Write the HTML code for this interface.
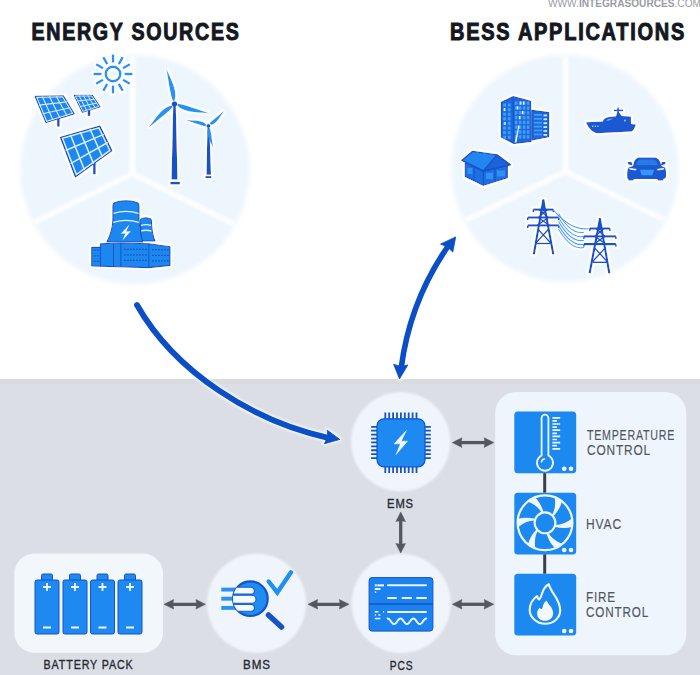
<!DOCTYPE html>
<html><head><meta charset="utf-8">
<style>
html,body{margin:0;padding:0;background:#fff;}
body{width:700px;height:675px;overflow:hidden;}
svg{display:block;}
text{font-family:"Liberation Sans",sans-serif;}
</style></head>
<body>
<svg width="700" height="675" viewBox="0 0 700 675">
<rect x="0" y="0" width="700" height="675" fill="#ffffff"/>
<defs><clipPath id="c1"><circle cx="135" cy="169.5" r="113.5"/></clipPath><clipPath id="c2"><circle cx="565" cy="168.5" r="112.5"/></clipPath></defs>
<text x="548" y="7" font-size="11.5" fill="#989da3" textLength="153" lengthAdjust="spacingAndGlyphs">WWW.<tspan font-weight="bold">INTEGRASOURCES</tspan>.COM</text>
<text x="31.5" y="40" font-size="23" font-weight="bold" letter-spacing="2" fill="#15181f" stroke="#15181f" stroke-width="1" textLength="209" lengthAdjust="spacingAndGlyphs">ENERGY SOURCES</text>
<text x="450" y="40" font-size="23" font-weight="bold" letter-spacing="2" fill="#15181f" stroke="#15181f" stroke-width="1" textLength="236" lengthAdjust="spacingAndGlyphs">BESS APPLICATIONS</text>
<defs><filter id="soft" x="-10%" y="-10%" width="120%" height="120%"><feGaussianBlur stdDeviation="2.5"/></filter><filter id="soft2" x="-10%" y="-10%" width="120%" height="120%"><feGaussianBlur stdDeviation="1"/></filter></defs>
<circle cx="135" cy="169.5" r="114.5" fill="#edf5fd" filter="url(#soft)"/>
<g filter="url(#soft2)"><g clip-path="url(#c1)" stroke="#fbfdff" stroke-width="6"><line x1="132.5" y1="173.5" x2="132.5" y2="40"/><line x1="132.5" y1="173.5" x2="10" y2="234.6"/><line x1="132.5" y1="173.5" x2="257" y2="235.6"/></g></g>
<circle cx="565" cy="168.5" r="113.5" fill="#edf5fd" filter="url(#soft)"/>
<g filter="url(#soft2)"><g clip-path="url(#c2)" stroke="#fbfdff" stroke-width="6"><line x1="565.5" y1="171.5" x2="565.5" y2="40"/><line x1="565.5" y1="171.5" x2="440" y2="232.7"/><line x1="565.5" y1="171.5" x2="690" y2="232.2"/></g></g>
<defs><filter id="halo" x="-5%" y="-5%" width="110%" height="110%"><feMorphology in="SourceAlpha" operator="dilate" radius="1.6" result="d"/><feFlood flood-color="#ffffff" flood-opacity="0.85"/><feComposite in2="d" operator="in" result="w"/><feGaussianBlur in="w" stdDeviation="0.7" result="wb"/><feMerge><feMergeNode in="wb"/><feMergeNode in="SourceGraphic"/></feMerge></filter></defs>
<g filter="url(#halo)">
<circle cx="113" cy="74" r="7.3" fill="none" stroke="#2494f2" stroke-width="2.4"/>
<path d="M124.5,74 L132.5,74 M122.96,79.75 L129.89,83.75 M118.75,83.96 L122.75,90.89 M113,85.5 L113,93.5 M107.25,83.96 L103.25,90.89 M103.04,79.75 L96.11,83.75 M101.5,74 L93.5,74 M103.04,68.25 L96.11,64.25 M107.25,64.04 L103.25,57.11 M113,62.5 L113,54.5 M118.75,64.04 L122.75,57.11 M122.96,68.25 L129.89,64.25" stroke="#2494f2" stroke-width="2.4"/>
<line x1="58.4" y1="118" x2="58.4" y2="126.6" stroke="#1553c6" stroke-width="2.6"/>
<path d="M35.4,96.6 L63.2,96 L73.9,113.7 L46.1,122.3 Z" fill="#1f87ef" stroke="#1553c6" stroke-width="1.6" stroke-linejoin="round"/>
<line x1="42.35" y1="96.45" x2="53.05" y2="120.15" stroke="#d8ecff" stroke-width="1.1"/>
<line x1="49.3" y1="96.3" x2="60" y2="118" stroke="#d8ecff" stroke-width="1.1"/>
<line x1="56.25" y1="96.15" x2="66.95" y2="115.85" stroke="#d8ecff" stroke-width="1.1"/>
<line x1="38.97" y1="105.17" x2="66.77" y2="101.9" stroke="#d8ecff" stroke-width="1.1"/>
<line x1="42.53" y1="113.73" x2="70.33" y2="107.8" stroke="#d8ecff" stroke-width="1.1"/>
<path d="M36.75,97.34 L62.6,96.78 L72.55,113.24 L46.7,121.24 Z" fill="none" stroke="#d8ecff" stroke-width="1.1"/>
<line x1="89" y1="109" x2="89" y2="115.9" stroke="#1553c6" stroke-width="2.6"/>
<path d="M74.5,95.5 L92.2,95.5 L99.7,106.8 L82.5,112.1 Z" fill="#1f87ef" stroke="#1553c6" stroke-width="1.6" stroke-linejoin="round"/>
<line x1="78.92" y1="95.5" x2="86.8" y2="110.77" stroke="#d8ecff" stroke-width="1.0"/>
<line x1="83.35" y1="95.5" x2="91.1" y2="109.45" stroke="#d8ecff" stroke-width="1.0"/>
<line x1="87.78" y1="95.5" x2="95.4" y2="108.12" stroke="#d8ecff" stroke-width="1.0"/>
<line x1="77.17" y1="101.03" x2="94.7" y2="99.27" stroke="#d8ecff" stroke-width="1.0"/>
<line x1="79.83" y1="106.57" x2="97.2" y2="103.03" stroke="#d8ecff" stroke-width="1.0"/>
<path d="M75.39,95.99 L91.85,95.99 L98.83,106.5 L82.83,111.43 Z" fill="none" stroke="#d8ecff" stroke-width="1.0"/>
<line x1="94.4" y1="160" x2="94.4" y2="174.3" stroke="#1553c6" stroke-width="2.6"/>
<path d="M60.7,137.5 L99.8,126.3 L111.6,150.6 L75.5,176.6 Z" fill="#1f87ef" stroke="#1553c6" stroke-width="1.6" stroke-linejoin="round"/>
<line x1="70.47" y1="134.7" x2="84.53" y2="170.1" stroke="#d8ecff" stroke-width="1.5"/>
<line x1="80.25" y1="131.9" x2="93.55" y2="163.6" stroke="#d8ecff" stroke-width="1.5"/>
<line x1="90.03" y1="129.1" x2="102.57" y2="157.1" stroke="#d8ecff" stroke-width="1.5"/>
<line x1="65.63" y1="150.53" x2="103.73" y2="134.4" stroke="#d8ecff" stroke-width="1.5"/>
<line x1="70.57" y1="163.57" x2="107.67" y2="142.5" stroke="#d8ecff" stroke-width="1.5"/>
<path d="M62.53,138.22 L98.9,127.8 L109.87,150.4 L76.3,174.58 Z" fill="none" stroke="#d8ecff" stroke-width="1.5"/>
<path d="M173.2,106 L175.8,106 L177.5,179.5 L171.5,179.5 Z" fill="#1553c6"/>
<rect x="170.3" y="181.9" width="9.6" height="2.5" fill="#1553c6"/>
<path d="M174.64,100.58 C177.39,92.2 172.5,82.33 166.3,69.1 C169.09,83.13 170.09,93.92 172.89,100.99 Z" fill="#2494f2"/>
<path d="M177.35,105.61 C183.35,112 194.29,112.38 208.8,113.2 C195.21,109 185.31,104.76 177.82,103.87 Z" fill="#2494f2"/>
<path d="M171.53,105.4 C163.01,106.99 156.93,115.97 148.6,127.7 C159.3,118.55 168.08,112.51 172.75,106.73 Z" fill="#2494f2"/>
<circle cx="174.5" cy="103.9" r="2.7" fill="#1553c6"/>
<path d="M207.4,128 L209.4,128 L211,174.8 L206.5,174.8 Z" fill="#1553c6"/>
<rect x="205.4" y="176.1" width="6" height="1.9" fill="#1553c6"/>
<path d="M210.89,124.83 C215.78,124.34 219.15,118.55 223.8,111 C217.39,116.74 212.02,120.47 209.63,123.54 Z" fill="#2494f2"/>
<path d="M206.11,124.48 C202.72,120.45 195.62,120.49 186.2,120.3 C194.99,122.93 201.38,125.68 205.66,126.23 Z" fill="#2494f2"/>
<path d="M208.08,128.73 C205.97,133.37 209.17,139.49 213.2,147.7 C211.63,138.94 211.25,132.2 209.84,128.34 Z" fill="#2494f2"/>
<circle cx="208.4" cy="126" r="2" fill="#1553c6"/>
<g stroke="#1553c6" stroke-width="1.1" stroke-linejoin="round">
<path d="M140.3,241 C141,234 140.5,226 140.3,220.5 Q140.3,218.5 142.5,218.2 Q146,217.4 149.2,218.2 Q151.4,218.5 151.4,220.5 C151.5,226 152,234 155,241 Z" fill="#1f87ef"/>
<path d="M106.9,242 C111.5,233 113,226 112.9,218 L112.9,206 Q112.9,202.6 116.5,202 Q126,199.6 135.5,202 Q139,202.6 139,206 L139,218 C139,226 140.5,233 142.5,242 Z" fill="#1f87ef"/>
<path d="M91.7,247.4 L100.4,247.4 L100.4,243.7 L120.9,243 L148.9,243.7 L170,246.8 L170,265.4 L149,267.6 L91.7,266 Z" fill="#1f87ef"/>
</g>
<g stroke="#e2f1ff" stroke-width="1.3" fill="none"><path d="M113.5,213.4 Q126,209.5 138.5,213.4"/><path d="M113.3,222.4 Q126,218.5 138.8,222.4"/><path d="M140.8,225.4 Q146,224 151.2,225.4"/><path d="M141,231 Q146,229.5 151.5,231"/></g>
<path d="M129.6,224.3 L120.8,233.8 L125.4,233.4 L122.4,240.4 L130.8,231.2 L126.2,231.5 Z" fill="#f2f8ff"/>
<g stroke="#1553c6" stroke-width="1" fill="none"><line x1="100.4" y1="247" x2="100.4" y2="266.3"/><line x1="113.5" y1="243.5" x2="113.5" y2="266.8"/><line x1="120.9" y1="243.2" x2="120.9" y2="267"/><line x1="148.9" y1="243.7" x2="148.9" y2="267.5"/></g>
<g fill="#1553c6">
<rect x="124" y="248.7" width="1.8" height="1.2"/>
<rect x="127" y="248.7" width="1.8" height="1.2"/>
<rect x="130" y="248.7" width="1.8" height="1.2"/>
<rect x="133" y="248.7" width="1.8" height="1.2"/>
<rect x="136" y="248.7" width="1.8" height="1.2"/>
<rect x="139" y="248.7" width="1.8" height="1.2"/>
<rect x="142" y="248.7" width="1.8" height="1.2"/>
<rect x="145" y="248.7" width="1.8" height="1.2"/>
<rect x="152" y="249.2" width="1.8" height="1.2"/>
<rect x="155" y="249.2" width="1.8" height="1.2"/>
<rect x="158" y="249.2" width="1.8" height="1.2"/>
<rect x="161" y="249.2" width="1.8" height="1.2"/>
<rect x="164" y="249.2" width="1.8" height="1.2"/>
<rect x="167" y="249.2" width="1.8" height="1.2"/>
<rect x="94" y="249.7" width="1.6" height="1.1"/>
<rect x="97" y="249.7" width="1.6" height="1.1"/>
<rect x="124" y="254.3" width="1.8" height="1.2"/>
<rect x="127" y="254.3" width="1.8" height="1.2"/>
<rect x="130" y="254.3" width="1.8" height="1.2"/>
<rect x="133" y="254.3" width="1.8" height="1.2"/>
<rect x="136" y="254.3" width="1.8" height="1.2"/>
<rect x="139" y="254.3" width="1.8" height="1.2"/>
<rect x="142" y="254.3" width="1.8" height="1.2"/>
<rect x="145" y="254.3" width="1.8" height="1.2"/>
<rect x="152" y="254.8" width="1.8" height="1.2"/>
<rect x="155" y="254.8" width="1.8" height="1.2"/>
<rect x="158" y="254.8" width="1.8" height="1.2"/>
<rect x="161" y="254.8" width="1.8" height="1.2"/>
<rect x="164" y="254.8" width="1.8" height="1.2"/>
<rect x="167" y="254.8" width="1.8" height="1.2"/>
<rect x="94" y="255.3" width="1.6" height="1.1"/>
<rect x="97" y="255.3" width="1.6" height="1.1"/>
<rect x="124" y="259.8" width="1.8" height="1.2"/>
<rect x="127" y="259.8" width="1.8" height="1.2"/>
<rect x="130" y="259.8" width="1.8" height="1.2"/>
<rect x="133" y="259.8" width="1.8" height="1.2"/>
<rect x="136" y="259.8" width="1.8" height="1.2"/>
<rect x="139" y="259.8" width="1.8" height="1.2"/>
<rect x="142" y="259.8" width="1.8" height="1.2"/>
<rect x="145" y="259.8" width="1.8" height="1.2"/>
<rect x="152" y="260.3" width="1.8" height="1.2"/>
<rect x="155" y="260.3" width="1.8" height="1.2"/>
<rect x="158" y="260.3" width="1.8" height="1.2"/>
<rect x="161" y="260.3" width="1.8" height="1.2"/>
<rect x="164" y="260.3" width="1.8" height="1.2"/>
<rect x="167" y="260.3" width="1.8" height="1.2"/>
<rect x="94" y="260.8" width="1.6" height="1.1"/>
<rect x="97" y="260.8" width="1.6" height="1.1"/>
</g>
</g><g filter="url(#halo)">
<path d="M501.4,102.3 L513,96.7 L530.6,101.4 L531,141.3 L513.9,143.4 L501.4,137 Z" fill="#1d68dc" stroke="#1553c6" stroke-width="1.2" stroke-linejoin="round"/>
<path d="M531.8,110.4 L548.6,112.6 L548.6,136.6 L531.8,140 Z" fill="#1d68dc" stroke="#1553c6" stroke-width="1.2" stroke-linejoin="round"/>
<line x1="513" y1="97" x2="513.9" y2="143" stroke="#1553c6" stroke-width="1"/>
<g fill="#3c9ff7"><rect x="514.8" y="101.5" width="2.6" height="3.4"/><rect x="518.8" y="101.5" width="2.6" height="3.4"/><rect x="522.8" y="101.5" width="2.6" height="3.4"/><rect x="526.8" y="101.5" width="2.6" height="3.4"/><rect x="503.2" y="103.5" width="2.8" height="3.1"/><rect x="507.8" y="103.5" width="2.8" height="3.1"/><rect x="514.8" y="106.3" width="2.6" height="3.4"/><rect x="518.8" y="106.3" width="2.6" height="3.4"/><rect x="522.8" y="106.3" width="2.6" height="3.4"/><rect x="526.8" y="106.3" width="2.6" height="3.4"/><rect x="503.2" y="108.1" width="2.8" height="3.1"/><rect x="507.8" y="108.1" width="2.8" height="3.1"/><rect x="514.8" y="111.1" width="2.6" height="3.4"/><rect x="518.8" y="111.1" width="2.6" height="3.4"/><rect x="522.8" y="111.1" width="2.6" height="3.4"/><rect x="526.8" y="111.1" width="2.6" height="3.4"/><rect x="503.2" y="112.7" width="2.8" height="3.1"/><rect x="507.8" y="112.7" width="2.8" height="3.1"/><rect x="514.8" y="115.9" width="2.6" height="3.4"/><rect x="518.8" y="115.9" width="2.6" height="3.4"/><rect x="522.8" y="115.9" width="2.6" height="3.4"/><rect x="526.8" y="115.9" width="2.6" height="3.4"/><rect x="503.2" y="117.3" width="2.8" height="3.1"/><rect x="507.8" y="117.3" width="2.8" height="3.1"/><rect x="514.8" y="120.7" width="2.6" height="3.4"/><rect x="518.8" y="120.7" width="2.6" height="3.4"/><rect x="522.8" y="120.7" width="2.6" height="3.4"/><rect x="526.8" y="120.7" width="2.6" height="3.4"/><rect x="503.2" y="121.9" width="2.8" height="3.1"/><rect x="507.8" y="121.9" width="2.8" height="3.1"/><rect x="514.8" y="125.5" width="2.6" height="3.4"/><rect x="518.8" y="125.5" width="2.6" height="3.4"/><rect x="522.8" y="125.5" width="2.6" height="3.4"/><rect x="526.8" y="125.5" width="2.6" height="3.4"/><rect x="503.2" y="126.5" width="2.8" height="3.1"/><rect x="507.8" y="126.5" width="2.8" height="3.1"/><rect x="514.8" y="130.3" width="2.6" height="3.4"/><rect x="518.8" y="130.3" width="2.6" height="3.4"/><rect x="522.8" y="130.3" width="2.6" height="3.4"/><rect x="526.8" y="130.3" width="2.6" height="3.4"/><rect x="503.2" y="131.1" width="2.8" height="3.1"/><rect x="507.8" y="131.1" width="2.8" height="3.1"/><rect x="514.8" y="135.1" width="2.6" height="3.4"/><rect x="518.8" y="135.1" width="2.6" height="3.4"/><rect x="522.8" y="135.1" width="2.6" height="3.4"/><rect x="526.8" y="135.1" width="2.6" height="3.4"/><rect x="503.2" y="135.7" width="2.8" height="3.1"/><rect x="507.8" y="135.7" width="2.8" height="3.1"/></g>
<g fill="#dff0ff"><rect x="516.8" y="106.3" width="1.6" height="3.2"/><rect x="519.8" y="101.5" width="1.6" height="3.2"/><rect x="522.8" y="101.5" width="1.6" height="3.2"/><rect x="518.8" y="116" width="1.6" height="3.2"/><rect x="521.8" y="111" width="1.6" height="3.2"/><rect x="517.8" y="125.5" width="1.6" height="3.2"/><rect x="503.8" y="108" width="1.4" height="3"/><rect x="504.2" y="122" width="1.4" height="3"/></g>
<path d="M514.5,142.5 L518,128 L519,128 L516.5,142.5 Z" fill="#e6f3ff"/>
<g fill="#cfe8ff"><rect x="543.5" y="114.5" width="3.6" height="1.8"/><rect x="543.5" y="118.4" width="3.6" height="1.8"/><rect x="543.5" y="122.3" width="3.6" height="1.8"/><rect x="543.5" y="126.2" width="3.6" height="1.8"/><rect x="543.5" y="130.1" width="3.6" height="1.8"/><rect x="543.5" y="134.0" width="3.6" height="1.8"/></g>
<g fill="#3c9ff7"><rect x="534" y="114.0" width="8" height="1.8"/><rect x="534" y="117.9" width="8" height="1.8"/><rect x="534" y="121.8" width="8" height="1.8"/><rect x="534" y="125.7" width="8" height="1.8"/><rect x="534" y="129.6" width="8" height="1.8"/><rect x="534" y="133.5" width="8" height="1.8"/></g>
<path d="M465.3,163 L465.3,176.5 L483.3,185.3 L507.3,177.6 L507.3,165.6 L483.3,171 Z" fill="#1f6fe2" stroke="#1553c6" stroke-width="1.2" stroke-linejoin="round"/>
<path d="M461.9,160.4 L472.6,151.4 L497,154.9 L510.3,164.7 L483.3,171 Z" fill="#2386f0" stroke="#1553c6" stroke-width="1.4" stroke-linejoin="round"/>
<path d="M497,154.9 L483.3,171 L510.3,164.7 Z" fill="#1a62d8" stroke="#1553c6" stroke-width="1.2" stroke-linejoin="round"/>
<g stroke="#1553c6" stroke-width="1"><line x1="483.3" y1="171" x2="483.3" y2="185.3"/><line x1="474" y1="167" x2="474" y2="180.5"/><line x1="495" y1="168" x2="495" y2="181.5"/></g>
<g fill="#3190f3"><rect x="486" y="173" width="7" height="6"/><rect x="497" y="170.5" width="8" height="6"/><rect x="467.5" y="168" width="5" height="6"/></g>
<path d="M586.1,122.3 L602.7,121.5 C604,118.5 606,117.5 609,117 L616,116.3 L617.2,112 L617.2,107.6 L618.9,107.6 L618.9,112 L621.8,116.1 L630.9,116.5 L631,124 L635.9,124.4 C634.8,128 633.5,130.5 631.7,131.6 L597,133.2 C592,132.3 588,127.5 586.1,122.3 Z" fill="#1a58d2"/>
<rect x="613.9" y="109.6" width="9.1" height="1.6" fill="#1a58d2"/>
<path d="M606,121 C607,119 610,118.3 613,118.5 C611,120 608.5,121 606,121 Z" fill="#5cb2ff"/>
<circle cx="625" cy="120.5" r="0.9" fill="#9fd0ff"/>
<g fill="#a9d2ff"><circle cx="592.7" cy="126.2" r="0.8"/><circle cx="595.3" cy="126.2" r="0.8"/><circle cx="597.9" cy="126.2" r="0.8"/></g>
<path d="M633,166 C634,160 636,157.4 640,157.4 L654,157.4 C658,157.4 660,160 661.5,166 L665,167.5 C666,169 666.1,172 666.1,175 C666.1,178 665,179 663.3,179 L663.3,180.6 L657.5,180.6 L657.5,179 L633.6,179 L633.6,180.6 L628.3,180.6 L628.3,179 C627.5,179 627.1,178 627.1,175 C627.1,172 627.5,169 628.5,167.5 Z" fill="#1a58d2"/>
<path d="M627.5,162 L631.5,162 L632.5,165.5 L628.5,164.5 Z M665.8,162 L661.8,162 L660.8,165.5 L664.8,164.5 Z" fill="#1a58d2"/>
<path d="M636.2,165.2 C637,161.2 638.5,159.6 641,159.6 L653,159.6 C655.5,159.6 657,161.2 657.8,165.2 Z" fill="#2c7ae6"/>
<path d="M640,169.8 L654,169.8 L652.5,175.2 L641.5,175.2 Z" fill="#3597f6"/>
<g fill="#e6f2ff"><path d="M629.2,167.8 L636.8,169 L635.5,170.4 L629.5,169.6 Z"/><path d="M664.3,167.8 L656.7,169 L658,170.4 L664,169.6 Z"/></g>
<path d="M543.3,200.2 L533.8,254.4 M543.3,200.2 L553.3,254.4" stroke="#1553c6" stroke-width="2.2" fill="none"/>
<line x1="543.3" y1="199.2" x2="543.3" y2="211.6" stroke="#1553c6" stroke-width="2"/>
<line x1="533.3" y1="209.6" x2="553.3" y2="209.6" stroke="#1553c6" stroke-width="2.2"/>
<line x1="533.3" y1="209.6" x2="533.3" y2="212.1" stroke="#1553c6" stroke-width="1.6"/>
<line x1="553.3" y1="209.6" x2="553.3" y2="212.1" stroke="#1553c6" stroke-width="1.6"/>
<line x1="527.8" y1="217.5" x2="558.8" y2="217.5" stroke="#1553c6" stroke-width="2.2"/>
<line x1="527.8" y1="217.5" x2="527.8" y2="220" stroke="#1553c6" stroke-width="1.6"/>
<line x1="558.8" y1="217.5" x2="558.8" y2="220" stroke="#1553c6" stroke-width="1.6"/>
<line x1="527.8" y1="225.4" x2="558.8" y2="225.4" stroke="#1553c6" stroke-width="2.2"/>
<line x1="527.8" y1="225.4" x2="527.8" y2="227.9" stroke="#1553c6" stroke-width="1.6"/>
<line x1="558.8" y1="225.4" x2="558.8" y2="227.9" stroke="#1553c6" stroke-width="1.6"/>
<path d="M538.3,229.4 L550.3,242.4 M548.3,229.4 L536.3,242.4 M535.8,243.4 L550.8,243.4 M539.3,209.6 L548.3,217.5 M547.3,209.6 L538.3,217.5 M538.3,217.5 L549.3,225.4 M548.3,217.5 L537.3,225.4" stroke="#1553c6" stroke-width="1.5" fill="none"/>
<path d="M599.9,219 L589.6,273.3 M599.9,219 L609.3,273.3" stroke="#1553c6" stroke-width="2.2" fill="none"/>
<line x1="599.9" y1="218" x2="599.9" y2="230.5" stroke="#1553c6" stroke-width="2"/>
<line x1="589.9" y1="228.5" x2="609.9" y2="228.5" stroke="#1553c6" stroke-width="2.2"/>
<line x1="589.9" y1="228.5" x2="589.9" y2="231" stroke="#1553c6" stroke-width="1.6"/>
<line x1="609.9" y1="228.5" x2="609.9" y2="231" stroke="#1553c6" stroke-width="1.6"/>
<line x1="583.9" y1="236.4" x2="615.9" y2="236.4" stroke="#1553c6" stroke-width="2.2"/>
<line x1="583.9" y1="236.4" x2="583.9" y2="238.9" stroke="#1553c6" stroke-width="1.6"/>
<line x1="615.9" y1="236.4" x2="615.9" y2="238.9" stroke="#1553c6" stroke-width="1.6"/>
<line x1="583.9" y1="244.2" x2="615.9" y2="244.2" stroke="#1553c6" stroke-width="2.2"/>
<line x1="583.9" y1="244.2" x2="583.9" y2="246.7" stroke="#1553c6" stroke-width="1.6"/>
<line x1="615.9" y1="244.2" x2="615.9" y2="246.7" stroke="#1553c6" stroke-width="1.6"/>
<path d="M594.9,248.2 L606.9,261.3 M604.9,248.2 L592.9,261.3 M592.4,262.3 L607.4,262.3 M595.9,228.5 L604.9,236.4 M603.9,228.5 L594.9,236.4 M594.9,236.4 L605.9,244.2 M604.9,236.4 L593.9,244.2" stroke="#1553c6" stroke-width="1.5" fill="none"/>
<g stroke="#3ea1f6" stroke-width="1.1" fill="none"><path d="M553,209.6 Q571.5,231.5 590,228.5"/><path d="M558.5,213.5 Q571.2,235.2 584,232.2"/><path d="M558.5,217.5 Q571.2,239.4 584,236.4"/><path d="M558.5,221.4 Q571.2,243.3 584,240.3"/><path d="M558.5,225.4 Q571.2,247.2 584,244.2"/><path d="M558.5,229 Q571.2,250.5 584,247.5"/></g>
</g>
<rect x="0" y="379" width="700" height="296" fill="#dcdee6"/>
<rect x="0" y="379" width="700" height="5" fill="#d8dcdf"/>
<rect x="495.2" y="392" width="191.1" height="263.3" rx="21" fill="#eef5fc"/>
<rect x="14.4" y="553.6" width="148.6" height="99.2" rx="20" fill="#f2f7fc"/>
<g filter="url(#soft2)"><circle cx="400.7" cy="441.8" r="49.5" fill="#f0f5fb"/>
<circle cx="256.6" cy="603.2" r="49.5" fill="#f0f5fb"/>
<circle cx="401.2" cy="603.5" r="49.5" fill="#f0f5fb"/></g>
<line x1="168.8" y1="604.3" x2="200.7" y2="604.3" stroke="#54585e" stroke-width="3.3"/><path d="M164,604.3 L173.6,599.5 L172.8,604.3 L173.6,609.1 Z" fill="#54585e" stroke="#54585e" stroke-width="0.5" stroke-linejoin="round"/><path d="M205.5,604.3 L195.9,599.5 L196.7,604.3 L195.9,609.1 Z" fill="#54585e" stroke="#54585e" stroke-width="0.5" stroke-linejoin="round"/>
<line x1="312.8" y1="604.3" x2="344.2" y2="604.3" stroke="#54585e" stroke-width="3.3"/><path d="M308,604.3 L317.6,599.5 L316.8,604.3 L317.6,609.1 Z" fill="#54585e" stroke="#54585e" stroke-width="0.5" stroke-linejoin="round"/><path d="M349,604.3 L339.4,599.5 L340.2,604.3 L339.4,609.1 Z" fill="#54585e" stroke="#54585e" stroke-width="0.5" stroke-linejoin="round"/>
<line x1="457.1" y1="604.3" x2="489" y2="604.3" stroke="#54585e" stroke-width="3.3"/><path d="M452.3,604.3 L461.9,599.5 L461.1,604.3 L461.9,609.1 Z" fill="#54585e" stroke="#54585e" stroke-width="0.5" stroke-linejoin="round"/><path d="M493.8,604.3 L484.2,599.5 L485,604.3 L484.2,609.1 Z" fill="#54585e" stroke="#54585e" stroke-width="0.5" stroke-linejoin="round"/>
<line x1="457.1" y1="442.6" x2="489" y2="442.6" stroke="#54585e" stroke-width="3.3"/><path d="M452.3,442.6 L461.9,437.8 L461.1,442.6 L461.9,447.4 Z" fill="#54585e" stroke="#54585e" stroke-width="0.5" stroke-linejoin="round"/><path d="M493.8,442.6 L484.2,437.8 L485,442.6 L484.2,447.4 Z" fill="#54585e" stroke="#54585e" stroke-width="0.5" stroke-linejoin="round"/>
<line x1="400.7" y1="516.7" x2="400.7" y2="548.3" stroke="#54585e" stroke-width="3.3"/><path d="M400.7,511.9 L395.9,521.5 L400.7,520.7 L405.5,521.5 Z" fill="#54585e" stroke="#54585e" stroke-width="0.5" stroke-linejoin="round"/><path d="M400.7,553.1 L395.9,543.5 L400.7,544.3 L405.5,543.5 Z" fill="#54585e" stroke="#54585e" stroke-width="0.5" stroke-linejoin="round"/>
<rect x="41.5" y="574" width="11" height="8" rx="1.5" fill="#1e89f1" stroke="#1553c6" stroke-width="1"/>
<rect x="35" y="580" width="24" height="54" rx="2" fill="#1e89f1" stroke="#1553c6" stroke-width="1"/>
<path d="M47,583 v8 M43,587 h8 M43,627.5 h8" stroke="#eef6ff" stroke-width="1.8"/>
<rect x="69.5" y="574" width="11" height="8" rx="1.5" fill="#1e89f1" stroke="#1553c6" stroke-width="1"/>
<rect x="63" y="580" width="24" height="54" rx="2" fill="#1e89f1" stroke="#1553c6" stroke-width="1"/>
<path d="M75,583 v8 M71,587 h8 M71,627.5 h8" stroke="#eef6ff" stroke-width="1.8"/>
<rect x="97.0" y="574" width="11" height="8" rx="1.5" fill="#1e89f1" stroke="#1553c6" stroke-width="1"/>
<rect x="90.5" y="580" width="24" height="54" rx="2" fill="#1e89f1" stroke="#1553c6" stroke-width="1"/>
<path d="M102.5,583 v8 M98.5,587 h8 M98.5,627.5 h8" stroke="#eef6ff" stroke-width="1.8"/>
<rect x="124.5" y="574" width="11" height="8" rx="1.5" fill="#1e89f1" stroke="#1553c6" stroke-width="1"/>
<rect x="118" y="580" width="24" height="54" rx="2" fill="#1e89f1" stroke="#1553c6" stroke-width="1"/>
<path d="M130,583 v8 M126,587 h8 M126,627.5 h8" stroke="#eef6ff" stroke-width="1.8"/>
<line x1="268.5" y1="615" x2="281.5" y2="627" stroke="#1553c6" stroke-width="5.5" stroke-linecap="round"/>
<g stroke="#2a93f1" stroke-width="3.9" stroke-linecap="butt"><line x1="221.3" y1="589.6" x2="236" y2="589.6"/><line x1="221.3" y1="598.7" x2="236" y2="598.7"/><line x1="221.3" y1="607.9" x2="236" y2="607.9"/></g>
<defs><clipPath id="mg"><circle cx="250.4" cy="598.7" r="17.5"/></clipPath></defs>
<circle cx="250.4" cy="598.7" r="17.3" fill="#1f8cf0" stroke="#1553c6" stroke-width="2.2"/>
<g clip-path="url(#mg)" fill="#f5faff" stroke="#1a5fd2" stroke-width="1.1">
<path d="M225,587.3 H251 A3.4,3.4 0 0 1 251,594.1 H225 Z"/>
<path d="M225,595.3 H252 A4,4 0 0 1 252,603.3 H225 Z"/>
<path d="M225,604.4 H251 A3.45,3.45 0 0 1 251,611.3 H225 Z"/>
</g>
<path d="M268.7,581.5 L277.3,592.5 L291,572.3" fill="none" stroke="#2090f0" stroke-width="4.4" stroke-linecap="round" stroke-linejoin="miter"/>
<rect x="369.1" y="577.6" width="63.8" height="53.5" rx="3" fill="#1c82ef" stroke="#1553c6" stroke-width="1"/>
<line x1="369.1" y1="603.9" x2="432.9" y2="603.9" stroke="#1553c6" stroke-width="1.5"/>
<g fill="#eaf4ff">
<rect x="374.8" y="584.3" width="2" height="2.1"/><rect x="377.3" y="584.3" width="6.7" height="2.1"/><rect x="374.8" y="588" width="5.6" height="2"/><rect x="374.8" y="591.3" width="1.4" height="1.5"/>
<rect x="374.8" y="611" width="3.6" height="1.6"/><rect x="383" y="611" width="1.1" height="1.6"/><rect x="374.8" y="614.2" width="1.1" height="1.5"/><rect x="378.4" y="614.2" width="2" height="1.5"/><rect x="374.8" y="617.8" width="5.6" height="1.5"/>
</g>
<g stroke="#eaf4ff" stroke-width="2" fill="none" stroke-linecap="round"><line x1="388" y1="585.3" x2="426" y2="585.3"/><line x1="388" y1="598" x2="396" y2="598"/><line x1="402.5" y1="598" x2="411" y2="598"/><line x1="417" y1="598" x2="426" y2="598"/><line x1="388" y1="611.9" x2="426" y2="611.9"/>
<path d="M387.60,618.50 L388.24,618.64 L388.89,619.03 L389.53,619.65 L390.17,620.43 L390.82,621.30 L391.46,622.16 L392.10,622.94 L392.75,623.56 L393.39,623.96 L394.03,624.10 L394.68,623.96 L395.32,623.57 L395.96,622.95 L396.61,622.17 L397.25,621.30 L397.89,620.44 L398.54,619.66 L399.18,619.04 L399.82,618.64 L400.47,618.50 L401.11,618.64 L401.75,619.03 L402.40,619.65 L403.04,620.43 L403.68,621.29 L404.33,622.16 L404.97,622.94 L405.61,623.56 L406.26,623.96 L406.90,624.10 L407.54,623.97 L408.19,623.57 L408.83,622.95 L409.47,622.17 L410.12,621.31 L410.76,620.44 L411.40,619.66 L412.05,619.04 L412.69,618.64 L413.33,618.50 L413.98,618.63 L414.62,619.03 L415.26,619.65 L415.91,620.43 L416.55,621.29 L417.19,622.16 L417.84,622.94 L418.48,623.56 L419.12,623.96 L419.77,624.10 L420.41,623.97 L421.05,623.57 L421.70,622.96 L422.34,622.18 L422.98,621.31 L423.63,620.45 L424.27,619.66 L424.91,619.04 L425.56,618.64 L426.20,618.50"/></g>
<path d="M385.3,412.4 v7 M385.3,466 v7 M371.1,426.8 h7 M424,426.8 h6.8 M389.2,412.4 v7 M389.2,466 v7 M371.1,430.71 h7 M424,430.71 h6.8 M393.1,412.4 v7 M393.1,466 v7 M371.1,434.62 h7 M424,434.62 h6.8 M397,412.4 v7 M397,466 v7 M371.1,438.53 h7 M424,438.53 h6.8 M400.9,412.4 v7 M400.9,466 v7 M371.1,442.44 h7 M424,442.44 h6.8 M404.8,412.4 v7 M404.8,466 v7 M371.1,446.35 h7 M424,446.35 h6.8 M408.7,412.4 v7 M408.7,466 v7 M371.1,450.26 h7 M424,450.26 h6.8 M412.6,412.4 v7 M412.6,466 v7 M371.1,454.17 h7 M424,454.17 h6.8 M416.5,412.4 v7 M416.5,466 v7 M371.1,458.08 h7 M424,458.08 h6.8" stroke="#1553c6" stroke-width="1.8"/>
<rect x="377" y="418.8" width="48" height="48" rx="7" fill="#1d89f1" stroke="#1553c6" stroke-width="1.2"/>
<path d="M406.3,430.5 L394.2,443.8 L400.5,443.8 L396.1,454.5 L407.4,441.2 L401.2,441.2 Z" fill="#f5faff" stroke="#f5faff" stroke-width="0.6" stroke-linejoin="round"/>
<rect x="514.3" y="411.5" width="61.9" height="61.7" rx="3.5" fill="#1c89f1"/>
<circle cx="564.2" cy="468.8" r="2.3" fill="#f0f7ff"/><circle cx="571" cy="468.8" r="2.3" fill="#f0f7ff"/>
<rect x="514.3" y="492.7" width="61.9" height="61.7" rx="3.5" fill="#1c89f1"/>
<circle cx="564.2" cy="550.0" r="2.3" fill="#f0f7ff"/><circle cx="571" cy="550.0" r="2.3" fill="#f0f7ff"/>
<rect x="514.3" y="573.7" width="61.9" height="61.7" rx="3.5" fill="#1c89f1"/>
<circle cx="564.2" cy="631.0" r="2.3" fill="#f0f7ff"/><circle cx="571" cy="631.0" r="2.3" fill="#f0f7ff"/>
<g stroke="#3a3f47" stroke-width="3"><line x1="544.7" y1="473.2" x2="544.7" y2="492.7"/><line x1="544.7" y1="554.4" x2="544.7" y2="573.7"/></g>
<path d="M541.6,455.5 L541.6,418 A3.4,3.4 0 0 1 548.4,418 L548.4,455.5 A8,8 0 1 1 541.6,455.5 Z" fill="none" stroke="#f0f7ff" stroke-width="1.8"/>
<path d="M541.5,462 A3.2,3.2 0 0 1 544.5,459" fill="none" stroke="#f0f7ff" stroke-width="1.4" stroke-linecap="round"/>
<path d="M552.4,417.8 h7.8 M552.4,420.9 h4.5 M552.4,424 h7.8 M552.4,427.1 h4.5 M552.4,430.2 h7.8 M552.4,433.3 h4.5 M552.4,436.4 h7.8 M552.4,439.5 h4.5 M552.4,442.6 h7.8 M552.4,445.7 h4.5 M552.4,448.8 h7.8" stroke="#f0f7ff" stroke-width="1.7"/>
<path d="M543.54,512.4 Q541.28,503.66 534.51,496.84 L527,501.35 Q537.58,505.31 541.76,512.81 Z M553.27,516.34 Q559.72,510.01 562.24,500.74 L554.58,496.49 Q556.43,507.63 552.03,515 Z M554.74,526.73 Q563.44,529.15 572.73,526.7 L572.57,517.94 Q563.86,525.12 555.27,524.98 Z M546.46,533.2 Q548.72,541.94 555.49,548.76 L563,544.25 Q552.42,540.29 548.24,532.79 Z M536.73,529.26 Q530.28,535.59 527.76,544.86 L535.42,549.11 Q533.57,537.97 537.97,530.6 Z M535.26,518.87 Q526.56,516.45 517.27,518.9 L517.43,527.66 Q526.14,520.48 534.73,520.62 Z" fill="#f0f7ff"/>
<circle cx="545" cy="522.8" r="27.4" fill="none" stroke="#f0f7ff" stroke-width="2.2"/>
<circle cx="545" cy="522.8" r="10.4" fill="#1c89f1" stroke="#f0f7ff" stroke-width="2.1"/>
<path d="M548.9,584.3 C550.5,593 560.2,598 560.2,610.6 C560.2,618 553.5,623.7 545.3,623.7 C536.5,623.7 529.7,617 529.7,609.9 C529.7,603 533,599 537.1,596 C537.5,598 538.2,599.8 539.3,599.3 C542.5,597 541,588 548.9,584.3 Z" fill="none" stroke="#f0f7ff" stroke-width="2.1" stroke-linejoin="round"/>
<path d="M546.4,600.6 C548.5,605 553.1,607.5 553.1,613.4 C553.1,617.5 549.5,620.8 545,620.8 C540.5,620.8 537.1,617.5 537.1,613.4 C537.1,610.5 538.5,608.8 539.6,607.7 C540.5,609.5 542,609.5 542.5,608 C543,605 544,602.5 546.4,600.6 Z" fill="#f3f9ff"/>
<g fill="none" stroke="#ffffff" stroke-opacity="0.75" stroke-width="9" stroke-linejoin="round" stroke-linecap="round" filter="url(#soft2)"><path d="M137,305 C175.6,372.9 253.5,421.4 328,437.8"/><path d="M401.2,368 Q409.7,301.9 447.5,247"/><path d="M339.8,439.4 L327.3,430.2 L327.5,437 L324.4,443.8 Z" stroke-width="4"/><path d="M399.5,379 L393.6,364.3 L400.7,366.5 L407.9,364.9 Z" stroke-width="4"/><path d="M455.7,236.9 L440.5,244.1 L447.5,247 L452.8,252.1 Z" stroke-width="4"/></g>
<path d="M137,305 C175.6,372.9 253.5,421.4 328,437.8" fill="none" stroke="#0b4fc6" stroke-width="5.8" stroke-linecap="round"/>
<path d="M339.8,439.4 L327.3,430.2 L327.5,437 L324.4,443.8 Z" fill="#0b4fc6" stroke="#0b4fc6" stroke-width="0.8" stroke-linejoin="round"/>
<path d="M401.2,368 Q409.7,301.9 447.5,247" fill="none" stroke="#0b4fc6" stroke-width="5.6"/>
<path d="M399.5,379 L393.6,364.3 L400.7,366.5 L407.9,364.9 Z" fill="#0b4fc6" stroke="#0b4fc6" stroke-width="0.8" stroke-linejoin="round"/>
<path d="M455.7,236.9 L440.5,244.1 L447.5,247 L452.8,252.1 Z" fill="#0b4fc6" stroke="#0b4fc6" stroke-width="0.8" stroke-linejoin="round"/>
<g fill="#272b33" stroke="#272b33" stroke-width="0.35" font-size="12.5" letter-spacing="1">
<text x="43.6" y="669" textLength="90" lengthAdjust="spacingAndGlyphs">BATTERY PACK</text>
<text x="243" y="669" textLength="28" lengthAdjust="spacingAndGlyphs">BMS</text>
<text x="389.8" y="670" textLength="23.5" lengthAdjust="spacingAndGlyphs">PCS</text>
<text x="387" y="508" textLength="27" lengthAdjust="spacingAndGlyphs">EMS</text>
</g>
<g fill="#52575e" stroke="#52575e" stroke-width="0.15" font-size="14" letter-spacing="1">
<text x="587" y="440.3" textLength="88" lengthAdjust="spacingAndGlyphs">TEMPERATURE</text>
<text x="587" y="455.4" textLength="64" lengthAdjust="spacingAndGlyphs">CONTROL</text>
<text x="586" y="528.6" textLength="36" lengthAdjust="spacingAndGlyphs">HVAC</text>
<text x="586" y="601.5" textLength="30" lengthAdjust="spacingAndGlyphs">FIRE</text>
<text x="586" y="617" textLength="63" lengthAdjust="spacingAndGlyphs">CONTROL</text>
</g>
</svg>
</body></html>
